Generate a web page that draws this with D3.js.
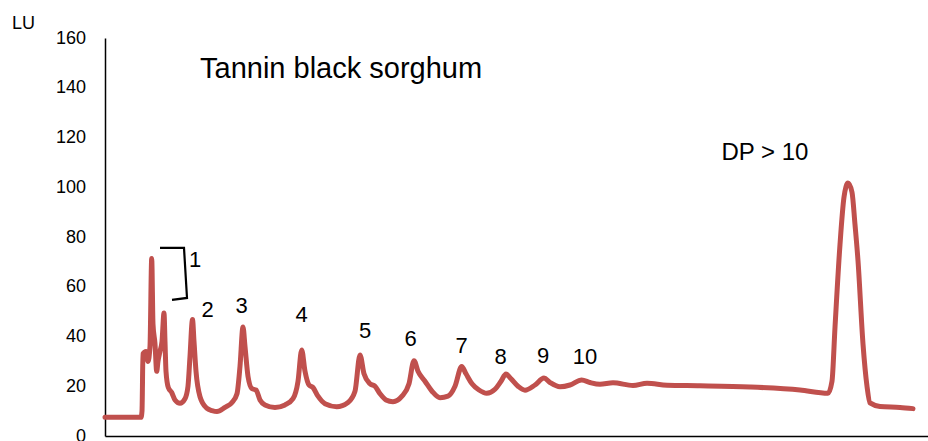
<!DOCTYPE html>
<html>
<head>
<meta charset="utf-8">
<script src="https://cdn.jsdelivr.net/npm/d3@7"></script>
<style>
  body { margin: 0; background: #fff; }
  svg { display: block; font-family: "Liberation Sans", Arial, sans-serif; }
</style>
</head>
<body>
<svg id="chart" width="928" height="441"></svg>
<script>
// retention time (min) and fluorescence (LU)
var time = [0.0, 3.6, 3.7, 3.8, 4.1, 4.3, 4.5, 4.67, 4.8, 5.0, 5.17, 5.3, 5.5, 5.7, 5.9, 6.0, 6.1, 6.33, 6.67, 7.0,
  7.5, 8.0, 8.3, 8.5, 8.75, 8.9, 9.1, 9.5, 10.17, 10.7, 11.2, 12.0, 12.7, 13.2, 13.5, 13.8, 14.0, 14.3, 14.7, 15.1,
  15.5, 16.0, 17.0, 18.0, 18.8, 19.3, 19.67, 20.0, 20.4, 20.8, 21.3, 22.0, 23.17, 24.3, 25.0, 25.5, 25.9, 26.5, 27.0, 27.5,
  28.1, 28.8, 29.7, 30.4, 30.9, 31.3, 32.0, 32.7, 33.5, 34.3, 35.0, 35.67, 36.1, 36.7, 37.4, 38.17, 39.0, 39.6, 40.1, 40.6,
  41.3, 42.0, 43.0, 43.9, 44.5, 45.5, 46.5, 47.67, 48.5, 49.5, 50.8, 52.8, 54.2, 56.2, 59.5, 64.5, 69.5, 72.3, 72.7, 73.0,
  73.5, 73.9, 74.3, 74.7, 75.0, 75.3, 75.8, 76.2, 76.5, 77.5, 79.5, 80.8];
var lu = [7.5, 7.5, 10, 33, 34, 30, 36, 71.4, 45, 37, 26, 30, 34, 38, 49.4, 38, 26, 19.5, 17.5, 14.5,
  13.2, 15, 20, 32, 46.8, 38, 26, 15.8, 11.2, 10.2, 9.8, 11.5, 13.5, 17, 28, 43.8, 36, 24, 19, 18.5,
  14.5, 12.5, 11.5, 12.5, 15, 22, 34.6, 26, 20.5, 19.5, 16, 13, 11.8, 13.5, 18, 32.6, 25, 21, 20, 17,
  14.5, 13.8, 16, 21, 30.3, 26, 22, 18, 15.4, 16, 20, 27.9, 25, 21, 18.5, 17.2, 18.8, 22, 24.9, 23,
  20, 18.4, 20.5, 23.3, 21.5, 19.8, 20.5, 22.5, 21.5, 20.8, 21.4, 20.3, 21.2, 20.4, 20.2, 19.7, 18.5, 17.2, 22, 43.7,
  77, 96, 101.7, 98, 85, 70.5, 37, 20, 13.3, 11.9, 11.5, 11.0];

var yTicks = [0, 20, 40, 60, 80, 100, 120, 140, 160];
var yLabel = "LU";
var title = "Tannin black sorghum";

// peak labels: text, time, LU of the label baseline
var peakLabels = ["1", "2", "3", "4", "5", "6", "7", "8", "9", "10"];
var peakLabelTime = [9.0, 10.27, 13.67, 19.67, 26.0, 30.57, 35.67, 39.57, 43.8, 48.0];
var peakLabelLU = [68.1, 47.8, 49.3, 45.9, 39.4, 36.3, 33.4, 28.9, 29.5, 28.9];
var bigLabel = "DP > 10";

// bracket around the group of peaks labelled 1
var bracketTime = [5.5, 7.9, 8.2, 6.7];
var bracketLU = [75.6, 75.6, 55.5, 54.7];

var svg = d3.select("#chart");

var x = d3.scaleLinear().domain([0, 82.3]).range([105, 928]);
var y = d3.scaleLinear().domain([0, 160]).range([436, 38]);

var data = time.map(function(t, i){ return { t: t, v: lu[i] }; });

// y axis
var yAxis = svg.append("g")
  .attr("transform", "translate(" + x(0) + ",0)")
  .call(d3.axisLeft(y).tickValues(yTicks).tickSize(0).tickSizeOuter(0).tickPadding(19));
yAxis.select(".domain").attr("stroke", "#000").attr("stroke-width", 1.5);
yAxis.selectAll("text")
  .attr("font-size", "18px")
  .attr("fill", "#000")
  .attr("font-family", "Liberation Sans, Arial, sans-serif")
  .attr("dy", "0.28em");

// x axis (line only)
var xAxis = svg.append("g")
  .attr("transform", "translate(0," + y(0) + ")")
  .call(d3.axisBottom(x).tickValues([]).tickSizeOuter(0));
xAxis.select(".domain").attr("stroke", "#000").attr("stroke-width", 1.5);

svg.append("text")
  .attr("x", 12)
  .attr("y", 29)
  .attr("font-size", "18px")
  .text(yLabel);

// trace
var line = d3.line()
  .x(function(d){ return x(d.t); })
  .y(function(d){ return y(d.v); })
  .curve(d3.curveMonotoneX);

svg.append("path")
  .datum(data)
  .attr("fill", "none")
  .attr("stroke", "#c0504d")
  .attr("stroke-width", 5)
  .attr("stroke-linejoin", "round")
  .attr("stroke-linecap", "round")
  .attr("d", line);

// bracket
var bracket = bracketTime.map(function(t, i){ return { t: t, v: bracketLU[i] }; });
svg.append("path")
  .datum(bracket)
  .attr("fill", "none")
  .attr("stroke", "#000")
  .attr("stroke-width", 2.2)
  .attr("d", d3.line().x(function(d){ return x(d.t); }).y(function(d){ return y(d.v); }));

// labels
svg.selectAll(".peak-label")
  .data(peakLabels)
  .enter().append("text")
    .attr("class", "peak-label")
    .attr("x", function(d, i){ return x(peakLabelTime[i]); })
    .attr("y", function(d, i){ return y(peakLabelLU[i]); })
    .attr("text-anchor", "middle")
    .attr("font-size", "22px")
    .text(function(d){ return d; });

svg.append("text")
  .attr("x", x(66.0))
  .attr("y", y(111))
  .attr("text-anchor", "middle")
  .attr("font-size", "24px")
  .text(bigLabel);

svg.append("text")
  .attr("x", x(9.5))
  .attr("y", y(143.8))
  .attr("font-size", "29px")
  .text(title);
</script>
</body>
</html>
